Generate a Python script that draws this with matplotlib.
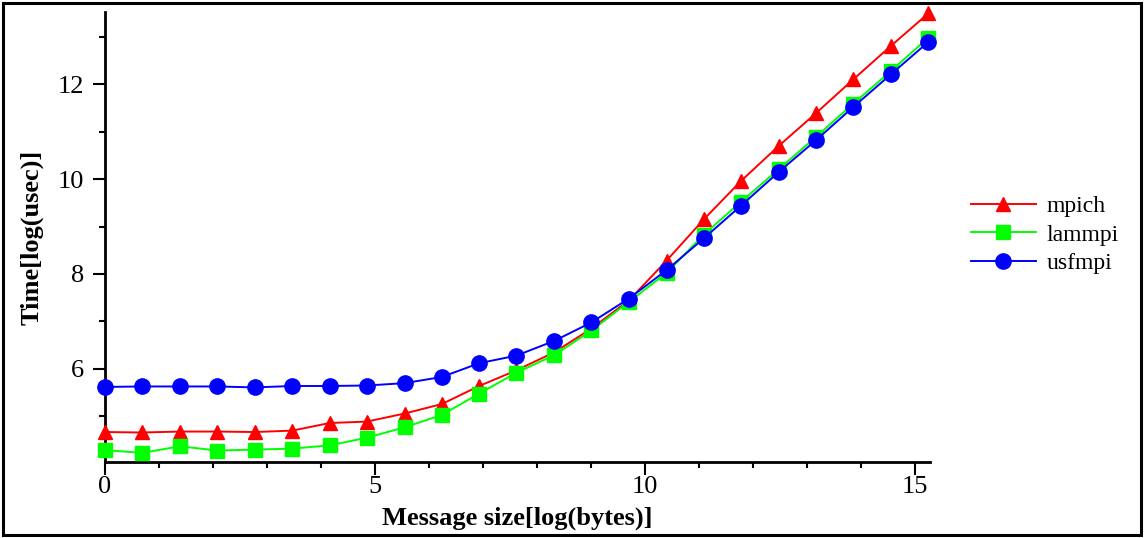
"""
Point-to-point message time vs message size for three MPI implementations
"""
import matplotlib.pyplot as plt
from matplotlib.patches import Rectangle
from matplotlib.ticker import MultipleLocator

# message size, log(bytes): 1 byte .. 4 MB, doubling
msg_size = [0.00, 0.69, 1.39, 2.08, 2.77, 3.47, 4.16, 4.85, 5.55, 6.24, 6.93, 7.62,
            8.32, 9.01, 9.70, 10.40, 11.09, 11.78, 12.48, 13.17, 13.86, 14.56, 15.25]

# time, log(usec)
mpich   = [4.67, 4.66, 4.68, 4.68, 4.67, 4.70, 4.86, 4.89, 5.06, 5.26, 5.64, 5.97,
           6.35, 6.85, 7.44, 8.28, 9.15, 9.96, 10.70, 11.39, 12.10, 12.81, 13.49]
lammpi  = [4.29, 4.23, 4.37, 4.28, 4.30, 4.32, 4.39, 4.55, 4.77, 5.03, 5.48, 5.92,
           6.29, 6.81, 7.41, 8.02, 8.83, 9.52, 10.21, 10.89, 11.59, 12.28, 12.98]
usfmpi  = [5.62, 5.63, 5.63, 5.63, 5.61, 5.64, 5.64, 5.65, 5.70, 5.83, 6.12, 6.28,
           6.59, 6.98, 7.48, 8.08, 8.75, 9.44, 10.15, 10.82, 11.52, 12.21, 12.89]

plt.rcParams['font.family'] = ['Liberation Serif', 'DejaVu Serif']

fig = plt.figure(figsize=(11.44, 5.38), dpi=100)
ax = fig.add_axes([105 / 1144, 75.6 / 538, 825 / 1144, 450.4 / 538])

ax.plot(msg_size, mpich, color='#ff0000', lw=1.4, marker='^', ms=10.5,
        label='mpich', clip_on=False, zorder=3)
ax.plot(msg_size, lammpi, color='#00ff00', lw=1.4, marker='s', ms=9.5,
        label='lammpi', clip_on=False, zorder=3)
ax.plot(msg_size, usfmpi, color='#0000ff', lw=1.4, marker='o', ms=11,
        label='usfmpi', clip_on=False, zorder=3)

ax.set_xlim(0, 15.28)
ax.set_ylim(4.03, 13.52)
ax.xaxis.set_major_locator(MultipleLocator(5))
ax.xaxis.set_minor_locator(MultipleLocator(1))
ax.yaxis.set_major_locator(MultipleLocator(2))
ax.yaxis.set_minor_locator(MultipleLocator(1))

for side in ['top', 'right']:
    ax.spines[side].set_visible(False)
for side in ['left', 'bottom']:
    ax.spines[side].set_linewidth(2.0)
ax.tick_params(which='major', direction='out', length=9, width=1.5, labelsize=19)
ax.tick_params(which='minor', direction='out', length=4.5, width=1.5)
ax.tick_params(axis='x', which='major', pad=1)
ax.tick_params(axis='y', which='major', pad=6)

ax.set_xlabel('Message size[log(bytes)]', fontsize=19, fontweight='bold', labelpad=6)
ax.set_ylabel('Time[log(usec)]', fontsize=19, fontweight='bold', labelpad=10)

fig.legend(loc='upper left', bbox_to_anchor=(959 / 1144, 1 - 184 / 538), frameon=False,
           fontsize=17, handlelength=2.75, handletextpad=0.45, labelspacing=0.29, borderpad=0)

# frame around the whole figure
fig.patches.append(Rectangle((0.003, 0.005), 0.994, 0.99, transform=fig.transFigure,
                             fill=False, edgecolor='black', linewidth=2.2))

fig.savefig('out.png', dpi=100)
